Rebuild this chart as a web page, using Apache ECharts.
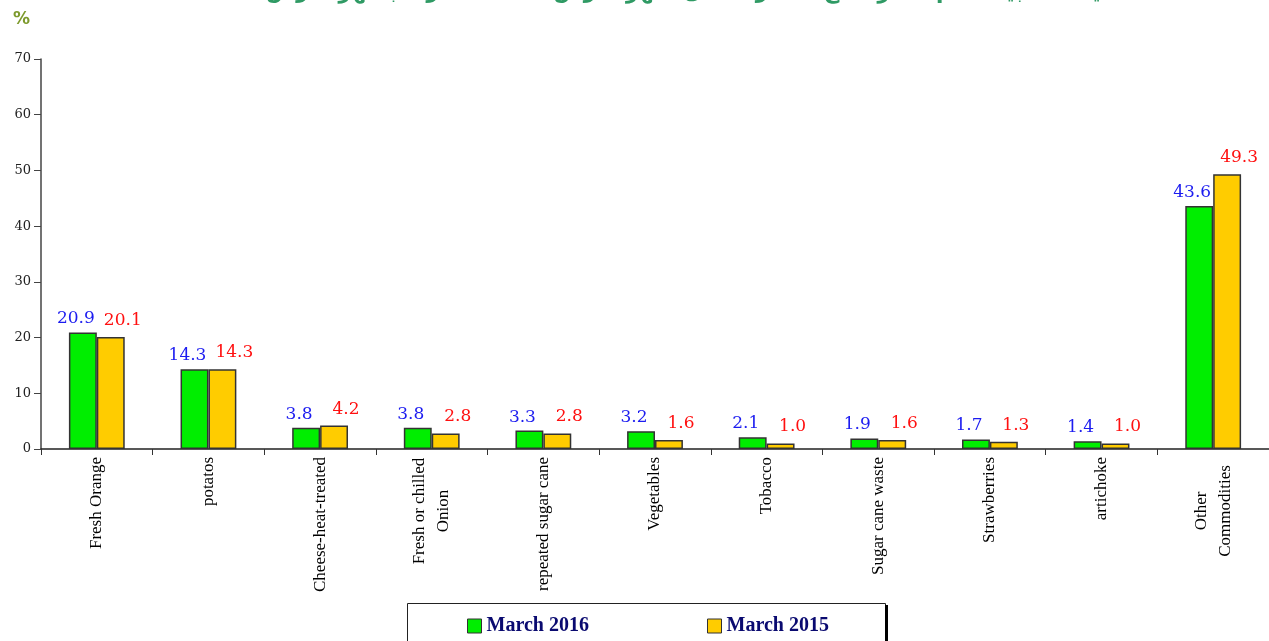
<!DOCTYPE html>
<html>
<head>
<meta charset="utf-8">
<script src="https://cdn.jsdelivr.net/npm/echarts@6/dist/echarts.min.js"></script>
<style>
html,body{margin:0;padding:0;background:#fff;}
#chart{width:1269px;height:641px;}
</style>
</head>
<body>
<div id="chart"></div>
<script>
const categories = ['Fresh Orange', 'potatos', 'Cheese-heat-treated', 'Fresh or chilled\nOnion', 'repeated sugar cane', 'Vegetables', 'Tobacco', 'Sugar cane waste', 'Strawberries', 'artichoke', 'Other\nCommodities'];
const march2016 = [20.9, 14.3, 3.8, 3.8, 3.3, 3.2, 2.1, 1.9, 1.7, 1.4, 43.6];
const march2015 = [20.1, 14.3, 4.2, 2.8, 2.8, 1.6, 1.0, 1.6, 1.3, 1.0, 49.3];
const seriesNames = ['March 2016', 'March 2015'];
const yTicks = [0, 10, 20, 30, 40, 50, 60, 70];
const titleText = 'الأهمية النسبية لأهم عشر سلع مصدرة خلال شهر مارس 2016 مقارنة بشهر مارس 2015';

const chart = echarts.init(document.getElementById('chart'), null, {renderer: 'canvas'});

function catLabel(v) {
  if (v.indexOf('\n') >= 0) {
    return v.split('\n').map(p => '{c|' + p + '}').join('\n');
  }
  return v;
}

const legendText = {fontFamily: 'Liberation Serif', fontWeight: 'bold', fontSize: 20, color: '#0a0a70'};

const option = {
  animation: false,
  backgroundColor: '#fff',
  grid: {left: 41, top: 59, width: 1240, height: 390},
  legend: [
    {
      data: [seriesNames[0]], left: 462, top: 611, itemWidth: 14, itemHeight: 14, icon: 'rect',
      textStyle: legendText, itemStyle: {borderColor: '#333', borderWidth: 1}
    },
    {
      data: [seriesNames[1]], left: 702, top: 611, itemWidth: 14, itemHeight: 14, icon: 'rect',
      textStyle: legendText, itemStyle: {borderColor: '#333', borderWidth: 1}
    }
  ],
  xAxis: {
    type: 'category',
    data: categories,
    axisLine: {lineStyle: {color: '#222', width: 1.5}},
    axisTick: {show: true, length: 6, lineStyle: {color: '#333'}},
    axisLabel: {
      interval: 0, rotate: 90, margin: 8,
      fontFamily: 'Liberation Serif', fontSize: 17, color: '#000', lineHeight: 24,
      formatter: catLabel,
      rich: {c: {fontFamily: 'Liberation Serif', fontSize: 17, color: '#000', width: 108, align: 'center', lineHeight: 24}}
    }
  },
  yAxis: {
    type: 'value', min: yTicks[0], max: yTicks[yTicks.length - 1], interval: 10,
    axisLine: {show: true, lineStyle: {color: '#444', width: 1.5}},
    axisTick: {show: true, length: 7, lineStyle: {color: '#444'}},
    splitLine: {show: false},
    axisLabel: {margin: 10, fontFamily: 'DejaVu Serif', fontSize: 13, color: '#222'}
  },
  series: [
    {
      name: seriesNames[0], type: 'bar', data: march2016,
      barGap: '0%', barCategoryGap: '50%',
      itemStyle: {color: '#00ee00', borderColor: '#333', borderWidth: 1.5},
      label: {
        show: true, position: 'top', distance: 5, offset: [-7, 0],
        fontFamily: 'DejaVu Serif', fontSize: 17, color: '#1c1cf0',
        formatter: p => p.value.toFixed(1)
      }
    },
    {
      name: seriesNames[1], type: 'bar', data: march2015,
      barGap: '0%', barCategoryGap: '50%',
      itemStyle: {color: '#ffcc00', borderColor: '#333', borderWidth: 1.5},
      label: {
        show: true, position: 'top', distance: 5, offset: [12, -3],
        fontFamily: 'DejaVu Serif', fontSize: 17, color: '#ff1010',
        formatter: p => p.value.toFixed(1)
      }
    }
  ],
  graphic: [
    {
      type: 'text', left: 197, top: -19, silent: true,
      style: {text: titleText, font: 'bold 22px "DejaVu Sans"', fill: '#2f9a64'}
    },
    {
      type: 'text', left: 13, top: 11, silent: true,
      style: {text: '%', font: 'bold 17px "DejaVu Sans"', fill: '#7d9a2c', shadowColor: 'rgba(0,0,0,0.3)', shadowBlur: 2, shadowOffsetX: 1, shadowOffsetY: 1}
    },
    {
      type: 'rect', left: 885, top: 605, z: -1, silent: true,
      shape: {width: 3, height: 40}, style: {fill: '#000'}
    },
    {
      type: 'rect', left: 407, top: 603, z: -2, silent: true,
      shape: {width: 478, height: 50}, style: {fill: '#fff', stroke: '#222', lineWidth: 1}
    }
  ]
};
chart.setOption(option);
</script>
</body>
</html>
